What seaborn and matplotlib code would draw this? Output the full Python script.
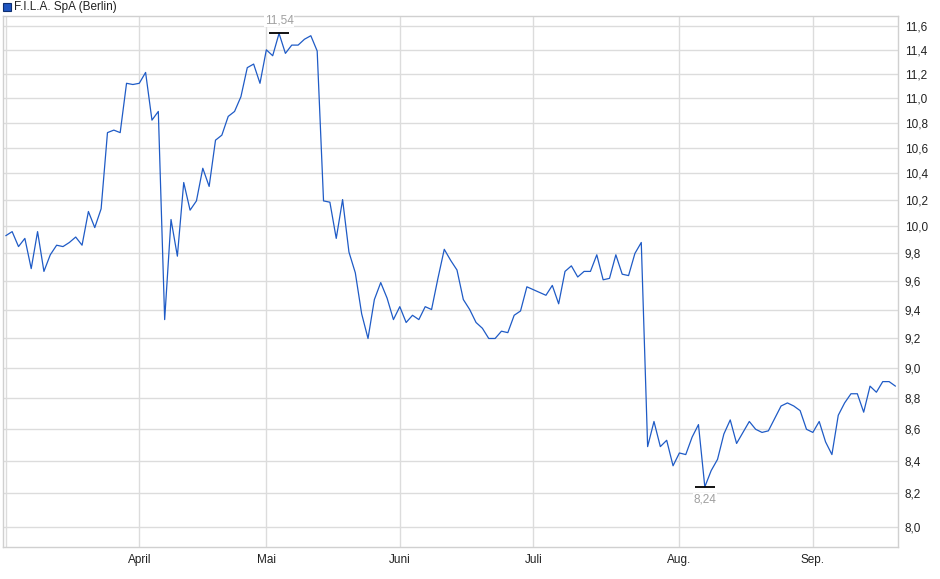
import pandas as pd
import seaborn as sns
import matplotlib.pyplot as plt
from matplotlib.patches import Rectangle

# Schlusskurse (Handelstage, Berlin)
prices = [
    9.93, 9.96, 9.85, 9.91, 9.69, 9.96, 9.67, 9.79, 9.86, 9.85,
    9.88, 9.92, 9.86, 10.11, 9.99, 10.13, 10.72, 10.74, 10.72, 11.12,
    11.11, 11.12, 11.21, 10.82, 10.89, 9.33, 10.05, 9.78, 10.33, 10.12,
    10.19, 10.44, 10.30, 10.66, 10.70, 10.85, 10.89, 11.01, 11.25, 11.28,
    11.12, 11.40, 11.35, 11.54, 11.37, 11.44, 11.44, 11.49, 11.52, 11.39,
    10.19, 10.18, 9.91, 10.20, 9.81, 9.66, 9.37, 9.20, 9.47, 9.59,
    9.48, 9.33, 9.42, 9.31, 9.36, 9.33, 9.42, 9.40, 9.62, 9.83,
    9.75, 9.68, 9.47, 9.40, 9.31, 9.27, 9.20, 9.20, 9.25, 9.24,
    9.36, 9.39, 9.56, 9.54, 9.52, 9.50, 9.57, 9.44, 9.67, 9.71,
    9.63, 9.67, 9.67, 9.79, 9.61, 9.62, 9.79, 9.65, 9.64, 9.80,
    9.88, 8.49, 8.65, 8.49, 8.53, 8.37, 8.45, 8.44, 8.55, 8.63,
    8.24, 8.34, 8.41, 8.57, 8.66, 8.51, 8.58, 8.65, 8.60, 8.58,
    8.59, 8.67, 8.75, 8.77, 8.75, 8.72, 8.60, 8.58, 8.65, 8.52,
    8.44, 8.69, 8.77, 8.83, 8.83, 8.71, 8.88, 8.84, 8.91, 8.91,
    8.88,
]
month_starts = [0, 21, 41, 62, 83, 106, 127]
month_labels = ["", "April", "Mai", "Juni", "Juli", "Aug.", "Sep."]
y_ticks = [8.0, 8.2, 8.4, 8.6, 8.8, 9.0, 9.2, 9.4, 9.6, 9.8,
           10.0, 10.2, 10.4, 10.6, 10.8, 11.0, 11.2, 11.4, 11.6]

df = pd.DataFrame({"tag": range(len(prices)), "kurs": prices})

sns.set_style("white")
plt.rcParams["font.family"] = ["Liberation Sans", "DejaVu Sans"]

fig = plt.figure(figsize=(9.4, 5.79), dpi=100)
ax = fig.add_axes([3 / 940, 1 - 547 / 579, 895 / 940, 531 / 579])

sns.lineplot(data=df, x="tag", y="kurs", color="#1f5bc6", linewidth=0.9, ax=ax)

ax.set_yscale("log")
ax.set_ylim(7.88, 11.69)
ax.set_xlim(-0.44, 140.4)

ax.yaxis.tick_right()
ax.set_yticks(y_ticks)
ax.set_yticklabels([f"{v:.1f}".replace(".", ",") for v in y_ticks])
ax.minorticks_off()
ax.set_xticks(month_starts)
ax.set_xticklabels(month_labels)
ax.tick_params(axis="y", length=0, pad=5, labelsize=8.5, colors="#222222")
ax.tick_params(axis="x", length=0, pad=5, labelsize=8.5, colors="#222222")
ax.set_xlabel("")
ax.set_ylabel("")

ax.grid(True, color="#dcdcdc", linewidth=1)
for sp in ax.spines.values():
    sp.set_color("#d0d0d0")
    sp.set_linewidth(1)

# Hoch / Tief markieren
hi = prices.index(max(prices))
lo = prices.index(min(prices))
for idx, dy, va in [(hi, 5, "bottom"), (lo, -5, "top")]:
    ax.plot(idx, prices[idx], marker="_", ms=14, mew=1.3, color="black")
    ax.annotate(f"{prices[idx]:.2f}".replace(".", ","), xy=(idx, prices[idx]),
                xytext=(0, dy), textcoords="offset points", ha="center", va=va,
                fontsize=8.5, color="#a0a0a0",
                bbox=dict(facecolor="white", edgecolor="none", pad=0.5))

# Legende oben links
fig.patches.append(Rectangle((3 / 940, 1 - 11 / 579), 8 / 940, 8 / 579,
                             transform=fig.transFigure, facecolor="#1f55c0",
                             edgecolor="#0f2f70", linewidth=0.8))
fig.text(14 / 940, 1 - 7 / 579, "F.I.L.A. SpA (Berlin)", fontsize=8.5,
         va="center", ha="left", color="#222222")

fig.savefig("out.png", dpi=100)
